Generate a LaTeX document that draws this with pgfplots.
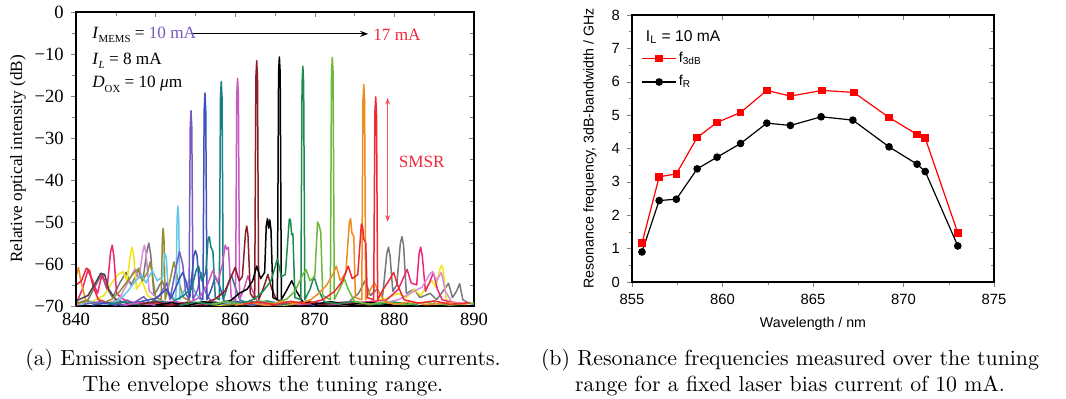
\documentclass[border=0pt]{standalone}
\usepackage{fontspec}
\usepackage{pgfplots}
\pgfplotsset{compat=1.18}
\usetikzlibrary{arrows.meta}
\newfontfamily\timesf{Liberation Serif}
\newfontfamily\arialf{Liberation Sans}
\newcommand\sub[1]{\raisebox{-0.55ex}{\fontsize{5.4}{6}\selectfont #1}}
\definecolor{cpurple}{RGB}{120,90,190}
\definecolor{cblue}{RGB}{60,80,190}
\definecolor{cteal}{RGB}{20,130,130}
\definecolor{corchid}{RGB}{200,90,190}
\definecolor{cdarkred}{RGB}{140,30,40}
\definecolor{cdgreen}{RGB}{30,140,80}
\definecolor{clgreen}{RGB}{110,185,60}
\definecolor{corange}{RGB}{240,140,30}
\definecolor{cred}{RGB}{240,40,50}
\definecolor{ccyan}{RGB}{100,200,230}
\definecolor{colive}{RGB}{150,140,50}
\definecolor{cgray}{RGB}{120,120,120}
\definecolor{cdgray}{RGB}{70,70,70}
\definecolor{cyellow}{RGB}{240,230,20}
\definecolor{cpink}{RGB}{235,40,120}
\definecolor{clorchid}{RGB}{215,140,220}
\definecolor{annred}{RGB}{240,40,60}
\begin{document}
\begin{tikzpicture}
\useasboundingbox (0,0) rectangle (533pt,199.5pt);
% ================= LEFT PLOT =================
\begin{axis}[
  at={(38pt,46.5pt)}, anchor=south west,
  width=199pt, height=147pt, scale only axis,
  xmin=840, xmax=890, ymin=-70, ymax=0,
  xtick={840,850,...,890}, minor x tick num=1,
  ytick={-70,-60,...,0}, minor y tick num=1,
  tick align=inside, xtick pos=both, ytick pos=right,
  xticklabel pos=lower, yticklabels={},
  major tick length=2.6pt, minor tick length=2.2pt,
  /pgf/number format/assume math mode=true,
  ticklabel style={font=\timesf\fontsize{9.3}{10}\selectfont},
  every axis plot/.append style={line width=0.75pt, line join=round},
  axis line style={line width=0.8pt},
  clip=true,
]
% --- extra spectra (weak, behind) ---
\addplot[cgray] coordinates {(840,-69.4)(841.5,-68.5)(842.5,-65)(843.2,-62.5)(843.8,-65.5)(844.6,-68)(845.5,-64.5)(846.3,-62)(846.9,-65)(847.5,-63)(847.9,-61)(848.4,-64)(848.9,-57)(849.15,-55)(849.4,-58)(849.8,-67.5)(850.8,-64)(851.5,-67)(852.5,-69)(854,-69.6)(856,-69.0)(858,-69.7)};
\addplot[cgray] coordinates {(870,-69.6)(872,-69.0)(874,-69.5)(875.5,-67)(876.3,-64)(877,-67.5)(877.8,-66)(878.5,-68)(879.05,-57.5)(879.25,-56)(879.45,-58)(879.8,-66.5)(880.3,-65)(880.75,-55)(880.95,-53.5)(881.15,-55.5)(881.5,-67)(882.5,-66)(883.2,-68)(884.5,-67)(885.3,-68.5)(886.1,-66.5)(886.8,-64.6)(887.3,-68)(887.8,-66.5)(888.2,-64.7)(888.6,-68.5)(889.3,-69.3)(890,-69.6)};
\addplot[cyellow] coordinates {(840,-69.6)(842,-69.0)(843.5,-67.5)(844.5,-64.5)(845.3,-62.5)(845.9,-61.8)(846.4,-64)(846.85,-57.5)(847.05,-56)(847.25,-58)(847.6,-66)(848.3,-64)(849,-67.5)(850,-69)(852,-69.6)(855,-69.2)(858,-69.8)(862,-69.3)(866,-69.8)(870,-69.2)(874,-69.7)(877,-69.0)(879,-68.2)(880.5,-67)(881.5,-68)(882.5,-66)(883.3,-67.5)(884.2,-65)(884.7,-64)(885.2,-65.5)(885.75,-61)(885.95,-60.3)(886.15,-61.5)(886.5,-68.5)(887.5,-69.2)(889,-69.6)};
\addplot[cpink] coordinates {(840,-69.5)(840.8,-66)(841.5,-61.5)(842.1,-64)(842.7,-67)(843.3,-62.3)(843.9,-66)(844.35,-57)(844.55,-55.5)(844.75,-58)(845.1,-67)(846,-68.5)(848,-69.6)(852,-69.1)(856,-69.7)(860,-69.3)(864,-69.8)(868,-69.2)(872,-69.7)(876,-69.1)(879,-68.6)(880.5,-66)(881.2,-63)(881.6,-61.3)(882.1,-64.5)(882.8,-65)(883.1,-57.5)(883.3,-56)(883.5,-58)(883.9,-66.5)(884.5,-64)(884.9,-62)(885.4,-66)(886,-68.5)(887.5,-69.3)(889,-69.7)};
\addplot[clorchid] coordinates {(840,-69.8)(842,-69.1)(844,-69.6)(845.5,-68)(846.5,-64.5)(847.4,-61.2)(847.9,-63.5)(848.4,-57)(848.6,-55.5)(848.8,-57.5)(849.2,-66.5)(850.2,-68)(851.5,-69.4)(854,-69.8)(858,-69.2)(862,-69.7)(866,-69.1)(870,-69.6)(874,-69.0)(878,-69.6)(880.5,-68.5)(882,-67)(883.5,-65.5)(884.4,-62.5)(884.8,-61.8)(885.3,-64)(885.9,-62)(886.4,-66.5)(887.2,-69)(889,-69.5)};
\addplot[corange] coordinates {(840,-63)(840.3,-60.8)(840.6,-64)(841.2,-68.5)(842.5,-69.5)(845,-69.0)(848,-69.6)};
\addplot[cred] coordinates {(840,-65)(840.7,-64)(841.3,-61)(841.7,-61.5)(842.1,-65)(842.8,-68.5)(844,-69.2)(846,-69.7)(849,-69.3)(852,-69.8)};
\addplot[cdgray] coordinates {(840,-68.8)(841.5,-67.5)(842.6,-64)(843.1,-62.2)(843.6,-62.5)(844.1,-66)(845,-68.5)(846.5,-69.4)(848,-69)(850,-69.7)};
% --- olive ---
\addplot[colive] coordinates {(840,-69.5)(841.5,-68.8)(843,-69.6)(844.5,-68.4)(845.5,-66.5)(846.5,-64)(847.3,-62)(847.8,-61.2)(848.3,-64)(849.0,-62)(849.3,-59.5)(849.6,-62.5)(850.0,-68)(850.7,-68.5)(850.85,-54)(850.95,-51.5)(851.05,-54)(851.2,-68.5)(851.8,-64)(852.3,-59.5)(852.8,-63.5)(853.5,-68)(855,-69.5)(857,-68.8)(859,-69.7)(862,-69.2)};
% --- cyan ---
\addplot[ccyan] coordinates {(840.5,-69.7)(842,-69.0)(844,-69.6)(845.5,-68.5)(846.5,-66.5)(847.5,-64)(848.2,-62.5)(848.8,-64.5)(849.6,-61.5)(850.2,-64)(850.9,-63)(851.15,-57.5)(851.35,-58.5)(851.6,-67)(852.55,-68.5)(852.7,-49)(852.8,-46.2)(852.9,-49)(853.05,-68.5)(853.7,-66)(854.3,-63.5)(854.9,-66.5)(855.8,-69)(858,-69.6)(860,-69.0)(862,-69.7)(865,-69.2)};
% --- purple ---
\addplot[cpurple] coordinates {(841,-69.6)(843,-69.0)(845,-69.8)(846.5,-68.6)(847,-69.5)(848.5,-67.8)(849.3,-69.4)(850.5,-67.5)(851.4,-64.5)(851.8,-68.5)(852.6,-60.5)(853.0,-57)(853.4,-60)(853.8,-67)(854.2,-68.5)(854.35,-27.5)(854.45,-23.5)(854.55,-27.5)(854.7,-68.5)(855.3,-66)(855.7,-62)(856.1,-66)(856.8,-68.5)(858,-69.5)(860,-68.8)(862,-69.7)(864,-69.2)(866,-69.8)};
% --- blue ---
\addplot[cblue] coordinates {(842,-69.8)(844,-69.2)(846,-69.9)(848,-69.0)(850,-68.2)(851.4,-66)(852,-68)(853.0,-63.5)(853.4,-62)(853.8,-64)(854.3,-68)(854.8,-58)(855.0,-56.8)(855.2,-58)(855.6,-68)(855.95,-68.5)(856.1,-23.5)(856.2,-19.3)(856.3,-23.5)(856.45,-68.5)(857,-66)(857.5,-63)(858,-65)(858.6,-68.8)(860,-69.4)(862,-68.9)(864,-69.6)(867,-69.2)(870,-69.8)};
% --- teal ---
\addplot[cteal] coordinates {(844,-69.6)(846,-69.0)(848,-69.7)(850,-68.8)(852,-69.2)(853.5,-67.5)(854.5,-66)(855.1,-61.5)(855.4,-60.5)(855.8,-64)(856.3,-62)(856.6,-54)(856.75,-53.5)(856.95,-56)(857.2,-57)(857.5,-68)(858.0,-68.5)(858.15,-20.5)(858.25,-16.6)(858.35,-20.5)(858.5,-68.5)(859,-65.5)(859.5,-62.5)(860,-65.5)(860.6,-68.6)(862,-69.5)(864,-68.8)(866,-69.6)(869,-69.0)(872,-69.7)};
% --- orchid ---
\addplot[corchid] coordinates {(846,-69.8)(848,-69.2)(850,-69.8)(852,-68.9)(854,-69.4)(855.5,-68)(856.5,-65)(857.2,-61.5)(857.8,-64.5)(858.4,-60)(858.75,-55.5)(858.95,-56.5)(859.15,-56)(859.5,-68)(860.05,-68.5)(860.2,-19.5)(860.3,-15.8)(860.4,-19.5)(860.55,-68.5)(861.1,-66)(861.6,-62.8)(862.1,-66)(862.8,-69)(864,-69.6)(866,-69.0)(868,-69.7)(871,-69.2)(874,-69.8)};
% --- dark red ---
\addplot[cdarkred] coordinates {(848,-69.6)(850,-69.0)(852,-69.8)(854,-69.1)(856,-69.6)(857.5,-68.3)(858.7,-66.5)(859.5,-63)(860.0,-60.8)(860.5,-64)(860.9,-63)(861.3,-52.5)(861.45,-51)(861.6,-53)(861.9,-67)(862.45,-68.5)(862.6,-15.5)(862.7,-11.6)(862.8,-15.5)(862.95,-68.5)(863.5,-66)(864.1,-62.5)(864.6,-66)(865.2,-68.5)(867,-69.4)(869,-68.9)(871,-69.6)(874,-69.1)(877,-69.8)};
% --- black ---
\addplot[black] coordinates {(850,-69.8)(852,-69.2)(854,-69.9)(856,-69.0)(858,-69.5)(859.5,-68.6)(860.5,-67)(861.5,-66)(862.2,-64)(862.7,-60.5)(863.2,-63.5)(863.7,-62)(863.9,-51)(864.05,-49.2)(864.2,-51.5)(864.35,-49.5)(864.5,-52)(864.75,-68)(865.3,-68.5)(865.45,-14.5)(865.55,-10.7)(865.65,-14.5)(865.8,-68.5)(866.4,-66.5)(867.1,-64)(867.7,-66.5)(868.5,-69)(870,-69.6)(872,-69.0)(874,-69.7)(877,-69.2)(880,-69.8)};
% --- dark green ---
\addplot[cdgreen] coordinates {(853,-69.8)(855,-69.1)(857,-69.6)(859,-68.9)(861,-69.5)(862.5,-68.2)(863.5,-66.5)(864.5,-64)(865.3,-58.8)(865.8,-63)(866.3,-62.5)(866.8,-49.3)(866.95,-49.5)(867.1,-53)(867.25,-52.8)(867.5,-68)(868.25,-68.5)(868.4,-17)(868.5,-12.9)(868.6,-17)(868.75,-68.5)(869.4,-66)(869.9,-63)(870.4,-66)(871.2,-69)(873,-69.5)(875,-68.9)(877,-69.7)(880,-69.1)(883,-69.8)};
% --- light green ---
\addplot[clgreen] coordinates {(857,-69.6)(859,-69.0)(861,-69.7)(863,-68.8)(865,-69.4)(866.5,-68.3)(867.5,-66.5)(868.5,-62.5)(868.9,-61.3)(869.4,-64)(870.0,-63)(870.35,-50)(870.55,-50.8)(870.75,-52.5)(871.0,-67.5)(871.95,-68.5)(872.1,-14.5)(872.2,-10.8)(872.3,-14.5)(872.45,-68.5)(873.1,-66)(873.7,-63.5)(874.2,-66)(875,-69)(877,-69.6)(879,-69.0)(881,-69.7)(884,-69.2)(887,-69.8)(890,-69.3)};
% --- orange ---
\addplot[corange] coordinates {(860,-69.8)(862,-69.2)(864,-69.9)(866,-69.0)(868,-69.5)(869.5,-68.5)(870.5,-67)(871.5,-65)(872.4,-62)(872.7,-60.5)(873.2,-64)(873.9,-62)(874.35,-50)(874.5,-49.2)(874.65,-52.5)(874.9,-53.5)(875.1,-68)(875.9,-68.5)(876.05,-21)(876.15,-17.3)(876.25,-21)(876.4,-68.5)(877,-66)(877.5,-64.5)(878,-66.5)(878.8,-69)(880,-69.6)(882,-69.0)(884,-69.7)(887,-69.2)(889,-69.6)};
% --- red ---
\addplot[cred] coordinates {(861,-69.6)(863,-69.0)(865,-69.7)(867,-68.9)(869,-69.5)(871,-68.5)(872.5,-66.5)(873.5,-64)(874.2,-60.5)(874.7,-63.5)(875.4,-62.5)(875.85,-50.5)(876.0,-51)(876.15,-54)(876.4,-55)(876.6,-68)(877.4,-68.5)(877.55,-24)(877.65,-20.2)(877.75,-24)(877.9,-68.5)(878.6,-66)(879.3,-64)(879.9,-62)(880.4,-65)(881.2,-68.5)(883,-69.3)(885,-68.8)(887,-69.6)(889.5,-69.2)};
% --- annotations ---
\node[anchor=west, inner sep=0pt, font=\timesf\fontsize{8.6}{10}\selectfont] at (axis cs:842,-5.4) {\textit{I}\sub{MEMS} = \textcolor{cpurple}{10 mA}};
\draw[line width=0.5pt, -{Stealth[length=4pt,width=3pt]}] (axis cs:854.7,-5.2) -- (axis cs:876.7,-5.2);
\node[anchor=west, inner sep=0pt, text=annred, font=\timesf\fontsize{8.6}{10}\selectfont] at (axis cs:877.3,-5.4) {17 mA};
\node[anchor=west, inner sep=0pt, font=\timesf\fontsize{8.6}{10}\selectfont] at (axis cs:842,-11.6) {\textit{I}\sub{\textit{L}} = 8 mA};
\node[anchor=west, inner sep=0pt, font=\timesf\fontsize{8.6}{10}\selectfont] at (axis cs:842,-17.2) {\textit{D}\sub{OX} = 10 \textit{μ}m};
\draw[annred!80, line width=0.5pt, {Stealth[length=3.5pt,width=2.5pt]}-{Stealth[length=3.5pt,width=2.5pt]}] (axis cs:879.15,-20.4) -- (axis cs:879.15,-50);
\node[anchor=west, inner sep=0pt, text=annred, font=\timesf\fontsize{8.6}{10}\selectfont] at (axis cs:880.5,-35.7) {SMSR};
\end{axis}
\begin{axis}[
  at={(38pt,46.5pt)}, anchor=south west,
  width=199pt, height=147pt, scale only axis,
  xmin=840, xmax=890, ymin=-70, ymax=0,
  axis x line=none, axis y line*=left,
  ytick={-70,-60,...,0}, minor y tick num=1,
  yticklabels={−70,−60,−50,−40,−30,−20,−10,0},
  tick align=outside,
  major tick length=2.6pt, minor tick length=2.2pt,
  ticklabel style={font=\timesf\fontsize{9.3}{10}\selectfont},
  axis line style={line width=0.8pt, -},
  ylabel={Relative optical intensity (dB)},
  ylabel style={font=\timesf\fontsize{8.6}{10}\selectfont, at={(axis description cs:-0.146,0.5)}, anchor=center},
]
\end{axis}
% ================= RIGHT PLOT =================
\begin{axis}[
  at={(316pt,58.5pt)}, anchor=south west,
  width=181pt, height=133.5pt, scale only axis,
  xmin=855, xmax=875, ymin=0, ymax=8,
  xtick={855,860,...,875}, minor x tick num=1,
  ytick={0,1,...,8}, minor y tick num=1,
  tick align=outside, xtick pos=lower, ytick pos=left,
  major tick length=2.6pt, minor tick length=1.6pt,
  /pgf/number format/assume math mode=true,
  ticklabel style={font=\arialf\fontsize{7.4}{9}\selectfont},
  axis line style={line width=0.6pt},
  xlabel={Wavelength / nm},
  ylabel={Resonance frequency, 3dB-bandwidth / GHz},
  label style={font=\arialf\fontsize{7.1}{9}\selectfont},
  xlabel style={at={(axis description cs:0.5,-0.155)}, anchor=center},
  ylabel style={at={(axis description cs:-0.116,0.5)}, anchor=center},
  legend style={draw=none, fill=none, at={(axis cs:855.5,7.02)}, anchor=north west,
    font=\arialf\fontsize{7.2}{9}\selectfont, row sep=1.2pt, inner sep=0pt,
    nodes={inner sep=1pt, text height=6pt, text depth=2.5pt}},
  legend cell align=left,
]
\addplot[red, line width=0.6pt, mark=square*, mark size=1.6pt, mark options={solid}] coordinates {
(855.55,1.16)(856.5,3.15)(857.45,3.24)(858.6,4.33)(859.7,4.78)(861.0,5.08)(862.45,5.74)(863.75,5.57)(865.5,5.74)(867.25,5.68)(869.2,4.93)(870.75,4.42)(871.2,4.31)(873.0,1.47)};
\addlegendentry{f\textsubscript{3dB}}
\addplot[black, line width=0.6pt, mark=*, mark size=1.6pt] coordinates {
(855.55,0.90)(856.5,2.44)(857.45,2.48)(858.6,3.39)(859.7,3.74)(861.0,4.15)(862.45,4.76)(863.75,4.69)(865.45,4.95)(867.2,4.85)(869.2,4.05)(870.75,3.53)(871.2,3.31)(873.0,1.08)};
\addlegendentry{f\textsubscript{R}}
\node[anchor=base west, inner sep=0pt, font=\arialf\fontsize{7.8}{9}\selectfont] at (axis cs:855.75,7.2) {I\textsubscript{L} = 10 mA};
\end{axis}
\begin{axis}[
  at={(316pt,58.5pt)}, anchor=south west,
  width=181pt, height=133.5pt, scale only axis,
  xmin=855, xmax=875, ymin=0, ymax=8,
  xtick={855,860,...,875}, minor x tick num=1,
  ytick={0,1,...,8}, minor y tick num=1,
  tick align=inside, xtick pos=upper, ytick pos=right,
  xticklabels={}, yticklabels={},
  major tick length=2.6pt, minor tick length=1.6pt,
  axis line style={line width=0.6pt},
]
\end{axis}
% ================= CAPTIONS =================
\node[align=center, font=\fontsize{10.9}{13}\selectfont] at (131.5pt,13pt) {(a) Emission spectra for different tuning currents.\\The envelope shows the tuning range.};
\node[align=center, font=\fontsize{10.9}{13}\selectfont] at (395pt,13pt) {(b) Resonance frequencies measured over the tuning\\range for a fixed laser bias current of 10 mA.};
\end{tikzpicture}
\end{document}
